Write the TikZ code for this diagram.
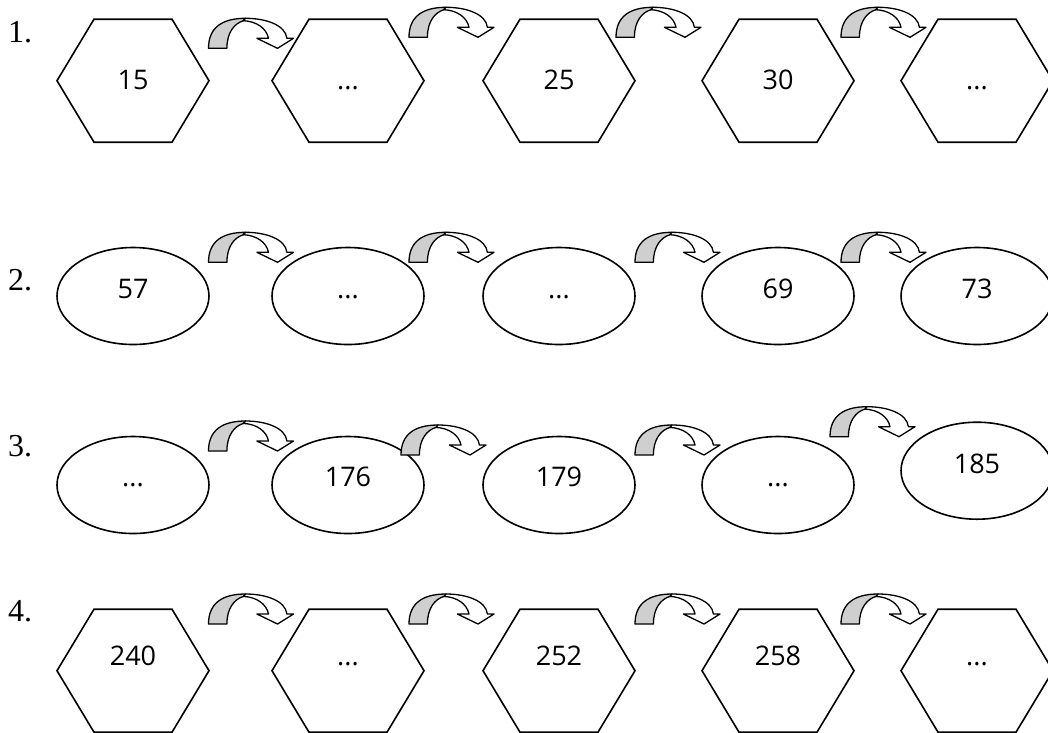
\documentclass[tikz,border=0pt]{standalone}
\usepackage{fontspec}
\setmainfont{Liberation Serif}
\newfontfamily\numfont{Open Sans}
\usetikzlibrary{shapes.geometric}
\definecolor{bandgray}{HTML}{CFCFCF}
\newcommand{\emptyslot}{...}
\tikzset{
  cell/.style={draw=black, line width=1.6pt, line join=miter},
  oval/.style={cell, ellipse, minimum width=152pt, minimum height=97pt, inner sep=0pt},
  num/.style={font=\numfont\fontsize{27}{31}\selectfont, inner sep=0pt, anchor=base},
  rowlabel/.style={font=\fontsize{32}{36}\selectfont, inner sep=0pt, anchor=base west},
  bandline/.style={draw=black, line width=1.3pt, line join=round},
  hexcell/.pic={
    \draw[cell] (-76,0) -- (-39,-61.5) -- (39,-61.5) -- (76,0) -- (39,61.5) -- (-39,61.5) -- cycle;
    \coordinate (-c) at (0,0);
  },
  bendarrow/.pic={
    % back band
    \filldraw[bandline, fill=bandgray] (0,0) .. controls (0,-21) and (14,-30) .. (37,-30)
      -- (35,-27.6) .. controls (26,-25) and (18.4,-16) .. (18.4,0) -- cycle;
    % front band with head
    \filldraw[bandline, fill=white] (35,-27.6) -- (37,-30) .. controls (58,-30) and (77,-23) .. (78.4,-10)
      -- (85,-10) -- (69,0) -- (48.4,-10) -- (60,-10) .. controls (58,-20) and (48,-27) .. (35,-27.6) -- cycle;
    \coordinate (-tip) at (69,0);
  }
}

\begin{document}
\begin{tikzpicture}[x=1pt, y=-1pt]
  \useasboundingbox (0,0) rectangle (1048,732);
  \clip (0,0) rectangle (1048,732);

  % row labels
  \node[rowlabel] (r1) at (8,42.7) {1.};
  \node[rowlabel] (r2) at (8,290.7) {2.};
  \node[rowlabel] (r3) at (8,456.7) {3.};
  \node[rowlabel] (r4) at (8,621.7) {4.};

  % row 1
  \foreach \x/\t [count=\i] in {133/15, 348/\emptyslot, 559/25, 778/30, 977/\emptyslot} {
    \pic (h1\i) at (\x,80.7) {hexcell};
    \node[num] (t1\i) at (\x,89.3) {\t};
  }
  \foreach \x/\y [count=\i] in {208.5/48.3, 409/37.3, 616/37.3, 841/37.3}
    \pic (a1\i) at (\x,\y) {bendarrow};

  % row 2
  \foreach \x/\t [count=\i] in {133/57, 348/\emptyslot, 559/\emptyslot, 778/69, 977/73} {
    \node[oval] (e2\i) at (\x,296) {};
    \node[num] (t2\i) at (\x,298.5) {\t};
  }
  \foreach \x [count=\i] in {208.5, 409, 635, 841}
    \pic (a2\i) at (\x,262.3) {bendarrow};

  % row 3
  \foreach \x/\y/\b/\t [count=\i] in {133/485/486.5/\emptyslot, 348/485/486.5/176, 559/485/486.5/179,
                                       778/485/486.5/\emptyslot, 977/470.7/473.5/185} {
    \node[oval] (e3\i) at (\x,\y) {};
    \node[num] (t3\i) at (\x,\b) {\t};
  }
  \foreach \x/\y [count=\i] in {208.5/451, 401/455, 635/455, 830/436.7}
    \pic (a3\i) at (\x,\y) {bendarrow};

  % row 4
  \foreach \x/\t [count=\i] in {133/240, 348/\emptyslot, 559/252, 778/258, 977/\emptyslot} {
    \pic (h4\i) at (\x,670.7) {hexcell};
    \node[num] (t4\i) at (\x,665) {\t};
  }
  \foreach \x [count=\i] in {208.5, 409, 635, 841}
    \pic (a4\i) at (\x,624) {bendarrow};
\end{tikzpicture}
\end{document}
